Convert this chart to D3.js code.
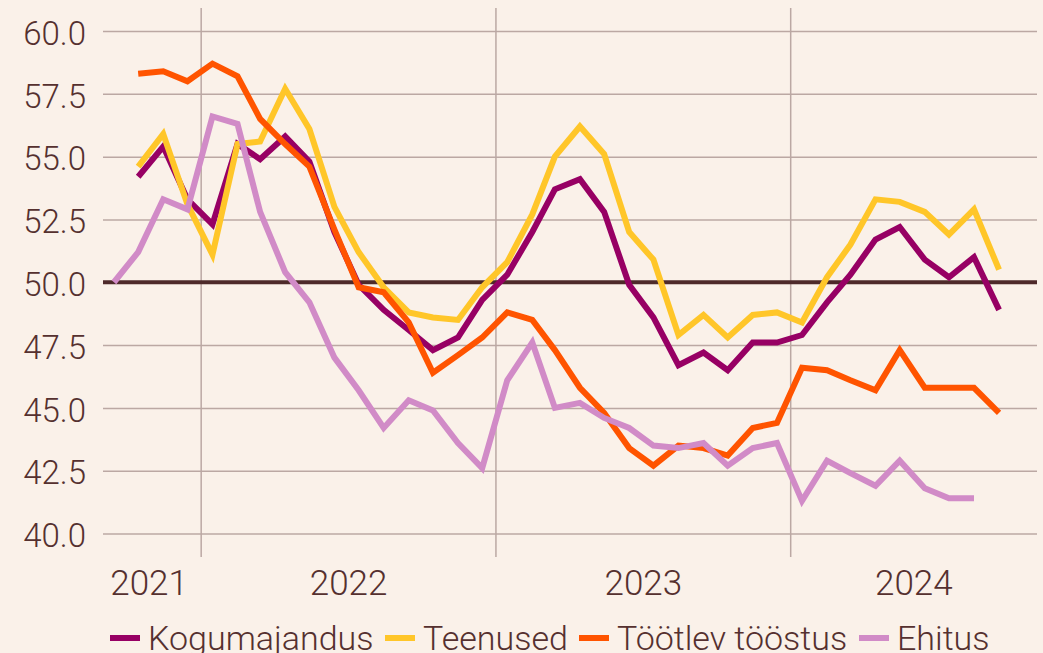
<!DOCTYPE html>
<html>
<head>
<meta charset="utf-8">
<script src="https://cdn.jsdelivr.net/npm/d3@7"></script>
<style>
  html, body { margin: 0; padding: 0; background: #faf1e9; }
  svg { display: block; font-family: Roboto, "Noto Sans", sans-serif; font-weight: 300; }
</style>
</head>
<body>
<svg id="chart"></svg>
<script>
const months = [
  "2021-09", "2021-10", "2021-11", "2021-12",
  "2022-01", "2022-02", "2022-03", "2022-04", "2022-05", "2022-06",
  "2022-07", "2022-08", "2022-09", "2022-10", "2022-11", "2022-12",
  "2023-01", "2023-02", "2023-03", "2023-04", "2023-05", "2023-06",
  "2023-07", "2023-08", "2023-09", "2023-10", "2023-11", "2023-12",
  "2024-01", "2024-02", "2024-03", "2024-04", "2024-05", "2024-06",
  "2024-07", "2024-08", "2024-09"
];
const kogumajandus = [
  null, 54.2, 55.4, 53.3,
  52.3, 55.5, 54.9, 55.8, 54.8, 52.0, 49.9, 48.9, 48.1, 47.3, 47.8, 49.3,
  50.3, 52.0, 53.7, 54.1, 52.8, 49.9, 48.6, 46.7, 47.2, 46.5, 47.6, 47.6,
  47.9, 49.2, 50.3, 51.7, 52.2, 50.9, 50.2, 51.0, 48.9
];
const teenused = [
  null, 54.6, 55.9, 53.1,
  51.1, 55.5, 55.6, 57.7, 56.1, 53.0, 51.2, 49.8, 48.8, 48.6, 48.5, 49.8,
  50.8, 52.7, 55.0, 56.2, 55.1, 52.0, 50.9, 47.9, 48.7, 47.8, 48.7, 48.8,
  48.4, 50.2, 51.5, 53.3, 53.2, 52.8, 51.9, 52.9, 50.5
];
const tootlevToostus = [
  null, 58.3, 58.4, 58.0,
  58.7, 58.2, 56.5, 55.5, 54.6, 52.1, 49.8, 49.6, 48.4, 46.4, 47.1, 47.8,
  48.8, 48.5, 47.3, 45.8, 44.8, 43.4, 42.7, 43.5, 43.4, 43.1, 44.2, 44.4,
  46.6, 46.5, 46.1, 45.7, 47.3, 45.8, 45.8, 45.8, 44.8
];
const ehitus = [
  50.0, 51.2, 53.3, 52.9,
  56.6, 56.3, 52.8, 50.4, 49.2, 47.0, 45.7, 44.2, 45.3, 44.9, 43.6, 42.6,
  46.1, 47.6, 45.0, 45.2, 44.6, 44.2, 43.5, 43.4, 43.6, 42.7, 43.4, 43.6,
  41.3, 42.9, 42.4, 41.9, 42.9, 41.8, 41.4, 41.4, null
];
const seriesNames = ["Kogumajandus", "Teenused", "Töötlev tööstus", "Ehitus"];
const seriesColors = ["#970064", "#ffc629", "#ff5400", "#d18bc7"];
const yTicks = [40, 42.5, 45, 47.5, 50, 52.5, 55, 57.5, 60];
const years = [2021, 2022, 2023, 2024];

const W = 1043, H = 653;
const plotLeft = 103, plotRight = 1037;
const textColor = "#55302f";
const gridColor = "#bba8a3";

const svg = d3.select("#chart").attr("width", W).attr("height", H);

const parse = d3.timeParse("%Y-%m");
const dates = months.map((m) => d3.timeDay.offset(parse(m), 14));

const x = d3.scaleTime()
  .domain([new Date(2021, 7, 25), new Date(2024, 10, 1)])
  .range([97, 1037]);
const y = d3.scaleLinear().domain([40, 60]).range([533.5, 31]);

// horizontal gridlines + y labels
const yAxis = d3.axisLeft(y)
  .tickValues(yTicks)
  .tickFormat(d3.format(".1f"))
  .tickSize(-(plotRight - plotLeft))
  .tickPadding(17);
svg.append("g")
  .attr("transform", `translate(${plotLeft},0)`)
  .call(yAxis)
  .call((g) => g.select(".domain").remove())
  .call((g) => g.selectAll(".tick line").attr("stroke", gridColor).attr("stroke-width", 1.5))
  .call((g) => g.selectAll(".tick text")
    .attr("fill", textColor)
    .attr("font-size", 33)
    .attr("font-family", "Roboto")
    .attr("font-weight", 300)
    .attr("dy", "0.40em"));

// vertical year boundaries
const yearStarts = years.slice(1).map((yr) => new Date(yr, 0, 1));
svg.append("g")
  .selectAll("line")
  .data(yearStarts)
  .join("line")
  .attr("x1", (d) => x(d))
  .attr("x2", (d) => x(d))
  .attr("y1", 8)
  .attr("y2", 557)
  .attr("stroke", gridColor)
  .attr("stroke-width", 1.5);

// year labels centred in each visible year
const [x0, x1] = x.range();
svg.append("g")
  .selectAll("text")
  .data(years)
  .join("text")
  .attr("x", (yr) => {
    const a = Math.max(x0, x(new Date(yr, 0, 1)));
    const b = Math.min(x1, x(new Date(yr + 1, 0, 1)));
    return (a + b) / 2;
  })
  .attr("y", 595)
  .attr("text-anchor", "middle")
  .attr("fill", textColor)
  .attr("font-size", 35)
  .text((yr) => yr);

// 50 line
svg.append("line")
  .attr("x1", plotLeft)
  .attr("x2", plotRight)
  .attr("y1", y(50))
  .attr("y2", y(50))
  .attr("stroke", "#4e2a2a")
  .attr("stroke-width", 4);

// series
const allSeries = [kogumajandus, teenused, tootlevToostus, ehitus];
const line = d3.line()
  .defined((d) => d.v != null)
  .x((d) => x(d.date))
  .y((d) => y(d.v));

svg.append("g")
  .selectAll("path")
  .data(allSeries)
  .join("path")
  .attr("d", (vals) => line(vals.map((v, i) => ({ date: dates[i], v: v }))))
  .attr("fill", "none")
  .attr("stroke", (d, i) => seriesColors[i])
  .attr("stroke-width", 6)
  .attr("stroke-linejoin", "miter");

// legend
const legendX = [110, 385, 579, 859];
const legend = svg.append("g")
  .selectAll("g")
  .data(seriesNames)
  .join("g")
  .attr("transform", (d, i) => `translate(${legendX[i]},638)`);
legend.append("line")
  .attr("x1", 0)
  .attr("x2", 30)
  .attr("stroke", (d, i) => seriesColors[i])
  .attr("stroke-width", 6);
legend.append("text")
  .attr("x", 38)
  .attr("y", 12)
  .attr("fill", textColor)
  .attr("font-size", 34)
  .text((d) => d);
</script>
</body>
</html>
